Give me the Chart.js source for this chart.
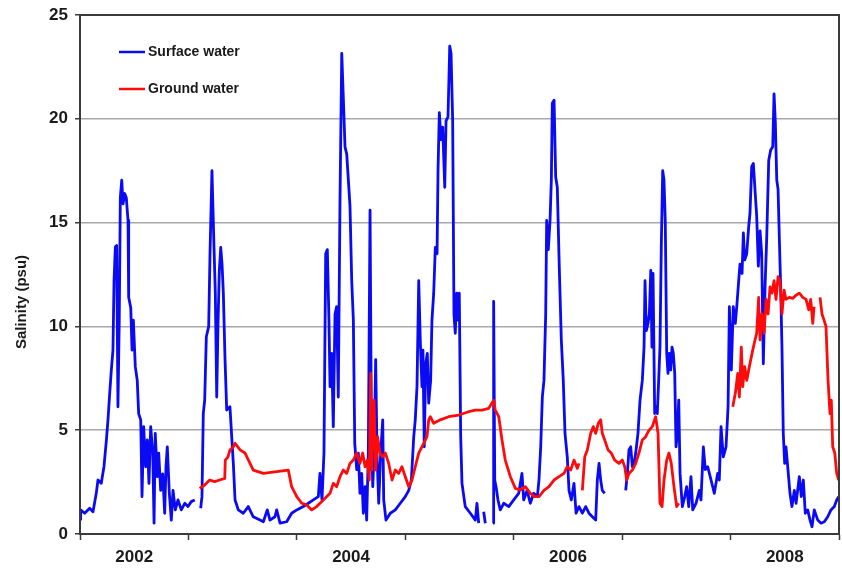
<!DOCTYPE html>
<html lang="en">
<head>
    <meta charset="UTF-8">
    <title>Salinity</title>
    <script src="https://cdn.jsdelivr.net/npm/chart.js"></script>
    <style>
        body { margin: 0; background: #fff; }
        #wrap { width: 842px; height: 573px; }
    </style>
</head>
<body>
<div id="wrap"><canvas id="salinityChart" width="842" height="573"></canvas></div>
<script>
// decimal years and salinity (psu), null = gap in record
const surfaceYears = [2002.000, 2002.006, 2002.043, 2002.089, 2002.120, 2002.150, 2002.166, 2002.196, 2002.221, 2002.243, 2002.258, 2002.274, 2002.289, 2002.304, 2002.314, 2002.326, 2002.338, 2002.350, 2002.362, 2002.372, 2002.385, 2002.397, 2002.412, 2002.427, 2002.443, 2002.449, 2002.468, 2002.480, 2002.492, 2002.510, 2002.528, 2002.541, 2002.560, 2002.572, 2002.587, 2002.606, 2002.621, 2002.636, 2002.652, 2002.671, 2002.683, 2002.694, 2002.713, 2002.726, 2002.744, 2002.763, 2002.781, 2002.793, 2002.805, 2002.824, 2002.842, 2002.858, 2002.879, 2002.904, 2002.934, 2002.966, 2002.996, 2003.026, 2003.058,
    2003.080,
    2003.113, 2003.125, 2003.137, 2003.150, 2003.165, 2003.187, 2003.199, 2003.217, 2003.236, 2003.248, 2003.261, 2003.273, 2003.285, 2003.298, 2003.310, 2003.322, 2003.337, 2003.353, 2003.383, 2003.399, 2003.414, 2003.430, 2003.460, 2003.506, 2003.552, 2003.598, 2003.660, 2003.691, 2003.727, 2003.752, 2003.798, 2003.814, 2003.845, 2003.906, 2003.952, 2003.999,
    2004.059, 2004.106, 2004.152, 2004.198, 2004.213, 2004.232, 2004.250, 2004.266, 2004.281, 2004.296, 2004.306, 2004.321, 2004.336, 2004.352, 2004.367, 2004.382, 2004.398, 2004.414, 2004.428, 2004.444, 2004.460, 2004.475, 2004.490, 2004.506, 2004.521, 2004.534, 2004.552, 2004.567, 2004.582, 2004.598, 2004.613, 2004.629, 2004.644, 2004.659, 2004.675, 2004.687, 2004.700, 2004.712, 2004.727, 2004.739, 2004.755, 2004.773, 2004.792, 2004.801, 2004.822, 2004.862, 2004.908, 2004.954,
    2005.000, 2005.032, 2005.056, 2005.078, 2005.092, 2005.108, 2005.124, 2005.139, 2005.154, 2005.163, 2005.175, 2005.188, 2005.203, 2005.216, 2005.234, 2005.246, 2005.262, 2005.277, 2005.293, 2005.302, 2005.314, 2005.329, 2005.345, 2005.364, 2005.376, 2005.394, 2005.410, 2005.422, 2005.437, 2005.449, 2005.461, 2005.474, 2005.486, 2005.498, 2005.511, 2005.523, 2005.553, 2005.600, 2005.646, 2005.661, 2005.677,
    2005.700,
    2005.723, 2005.738,
    2005.770,
    2005.809, 2005.815, 2005.825, 2005.837, 2005.855, 2005.876, 2005.908, 2005.954,
    2006.000, 2006.046, 2006.076, 2006.092, 2006.123, 2006.153, 2006.184, 2006.218, 2006.233, 2006.249, 2006.264, 2006.279, 2006.295, 2006.304, 2006.319, 2006.335, 2006.347, 2006.356, 2006.372, 2006.387, 2006.402, 2006.420, 2006.439, 2006.457, 2006.473, 2006.494, 2006.510, 2006.531, 2006.556, 2006.575, 2006.602, 2006.633, 2006.664, 2006.694, 2006.725, 2006.756, 2006.771, 2006.787, 2006.802, 2006.817, 2006.839,
    2006.930,
    2007.033, 2007.048, 2007.063, 2007.079, 2007.094, 2007.110, 2007.125, 2007.146, 2007.165, 2007.186, 2007.202, 2007.211, 2007.223, 2007.239, 2007.251, 2007.264, 2007.275, 2007.285, 2007.300, 2007.312, 2007.324, 2007.337, 2007.349, 2007.361, 2007.374, 2007.386, 2007.398, 2007.411, 2007.423, 2007.435, 2007.448, 2007.460, 2007.472, 2007.485, 2007.497, 2007.509, 2007.522, 2007.534, 2007.555, 2007.577, 2007.595, 2007.614, 2007.635, 2007.651, 2007.681, 2007.712, 2007.727, 2007.749, 2007.767, 2007.789, 2007.820, 2007.850, 2007.881, 2007.896, 2007.912, 2007.933, 2007.958, 2007.977, 2007.989,
    2008.007, 2008.025, 2008.044, 2008.057, 2008.075, 2008.087, 2008.106, 2008.118, 2008.130, 2008.149, 2008.167, 2008.179, 2008.195, 2008.210, 2008.225, 2008.241, 2008.256, 2008.272, 2008.287, 2008.302, 2008.318, 2008.333, 2008.352, 2008.370, 2008.389, 2008.401, 2008.413, 2008.426, 2008.438, 2008.450, 2008.462, 2008.474, 2008.486, 2008.499, 2008.511, 2008.527, 2008.548, 2008.566, 2008.588, 2008.604, 2008.634, 2008.652, 2008.671, 2008.689, 2008.711, 2008.733, 2008.751, 2008.772, 2008.804, 2008.834, 2008.865, 2008.896, 2008.926, 2008.957, 2008.979, 2008.997];
const surfaceValues = [0.7, 1.16, 1.0, 1.24, 1.07, 1.96, 2.6, 2.44, 3.24, 4.5, 5.5, 6.78, 7.9, 8.86, 12.2, 13.84, 13.9, 6.13, 10.3, 16.2, 17.05, 15.9, 16.4, 16.2, 15.1, 11.4, 10.9, 8.86, 10.3, 8.06, 7.4, 5.8, 5.5, 1.8, 5.17, 3.24, 4.53, 2.44, 5.17, 3.9, 0.52, 4.85, 2.76, 3.9, 2.1, 2.9, 1.0, 3.24, 4.2, 1.96, 0.67, 2.1, 1.16, 1.64, 1.16, 1.48, 1.32, 1.56, 1.64,
    null,
    1.24, 1.8, 5.8, 6.45, 9.5, 10.0, 13.5, 17.5, 13.8, 11.6, 6.6, 10.15, 12.7, 13.8, 13.0, 11.6, 8.5, 5.97, 6.13, 4.7, 3.4, 1.64, 1.16, 1.0, 1.32, 0.83, 0.67, 0.59, 1.16, 0.67, 0.83, 1.16, 0.52, 0.59, 1.0, 1.16,
    1.32, 1.48, 1.64, 1.8, 2.92, 1.64, 3.9, 13.5, 13.7, 10.3, 7.1, 8.7, 5.17, 10.6, 10.95, 6.6, 16.1, 23.15, 21.1, 18.65, 18.3, 17.05, 15.8, 12.2, 10.3, 4.37, 3.1, 3.9, 1.96, 2.92, 1.0, 2.28, 0.67, 3.9, 15.6, 5.5, 2.28, 3.9, 8.4, 3.9, 1.48, 3.9, 5.5, 1.64, 0.67, 1.0, 1.16, 1.48,
    1.8, 2.1, 2.6, 4.69, 5.5, 7.1, 12.2, 9.2, 7.1, 8.86, 4.2, 8.2, 8.7, 6.3, 7.4, 10.3, 11.6, 13.8, 13.5, 17.5, 20.3, 19.0, 19.6, 16.7, 19.9, 20.1, 23.5, 23.15, 19.9, 10.6, 9.67, 11.6, 10.3, 11.6, 4.69, 2.44, 1.32, 1.0, 0.67, 1.48, 0.52,
    null,
    1.07, 0.52,
    null,
    0.52, 11.2, 2.6, 2.28, 1.64, 1.16, 1.48, 1.32,
    1.64, 1.96, 2.92, 1.64, 2.1, 1.48, 1.96, 1.8, 2.6, 4.2, 6.6, 7.4, 10.6, 15.1, 13.7, 15.1, 17.05, 20.75, 20.9, 17.2, 16.7, 12.9, 9.35, 7.4, 4.85, 3.72, 2.1, 1.64, 2.44, 1.0, 1.32, 1.0, 1.32, 1.0, 0.83, 0.67, 2.6, 3.4, 2.6, 2.1, 1.96,
    null,
    2.1, 2.92, 4.05, 4.2, 3.24, 3.4, 3.9, 4.85, 6.45, 7.4, 9.0, 12.2, 9.8, 10.15, 10.6, 12.7, 9.0, 12.55, 5.8, 6.13, 5.8, 7.4, 9.0, 13.8, 17.5, 17.05, 15.0, 8.7, 7.74, 8.7, 7.9, 9.0, 8.7, 7.74, 4.2, 4.85, 6.45, 2.92, 1.32, 1.8, 2.28, 1.32, 2.76, 1.16, 1.48, 2.1, 1.64, 4.2, 3.1, 3.24, 2.6, 1.96, 2.92, 2.6, 5.17, 3.72, 4.2, 6.13, 10.95,
    7.9, 10.95, 10.15, 10.95, 12.2, 13.0, 12.55, 14.5, 13.2, 13.5, 14.8, 15.45, 17.7, 17.85, 16.6, 15.3, 12.9, 14.6, 13.5, 8.2, 11.9, 14.2, 18.0, 18.5, 18.65, 21.2, 19.8, 17.05, 16.6, 14.2, 11.9, 9.0, 4.85, 3.4, 4.2, 3.24, 1.96, 1.32, 2.1, 1.48, 2.76, 1.8, 2.6, 1.0, 1.16, 0.67, 0.35, 1.16, 0.67, 0.52, 0.59, 0.83, 1.16, 1.32, 1.64, 1.8];

const groundYears = [2003.104, 2003.150, 2003.196, 2003.242, 2003.288, 2003.335, 2003.340, 2003.365, 2003.383, 2003.414, 2003.430, 2003.476, 2003.522, 2003.568, 2003.598, 2003.691, 2003.814, 2003.921, 2003.952, 2003.999,
    2004.045, 2004.091, 2004.137, 2004.183, 2004.244, 2004.306, 2004.336, 2004.367, 2004.398, 2004.428, 2004.460, 2004.490, 2004.521, 2004.552, 2004.582, 2004.607, 2004.629, 2004.650, 2004.668, 2004.681, 2004.690, 2004.712, 2004.727, 2004.745, 2004.766, 2004.792, 2004.816, 2004.847, 2004.878, 2004.908, 2004.939, 2004.969,
    2005.000, 2005.032, 2005.062, 2005.092, 2005.124, 2005.170, 2005.200, 2005.216, 2005.231, 2005.262, 2005.323, 2005.400, 2005.493, 2005.585, 2005.646, 2005.708, 2005.769, 2005.815, 2005.830, 2005.862, 2005.892, 2005.922, 2005.969,
    2006.015, 2006.061, 2006.107, 2006.153, 2006.194, 2006.233, 2006.279, 2006.325, 2006.372, 2006.418, 2006.464, 2006.494, 2006.526, 2006.556, 2006.587, 2006.602,
    2006.618,
    2006.633, 2006.655, 2006.679, 2006.710, 2006.734, 2006.756, 2006.780, 2006.802, 2006.817, 2006.839, 2006.870, 2006.900, 2006.931, 2006.971,
    2007.001, 2007.024, 2007.042, 2007.063, 2007.094, 2007.125, 2007.155, 2007.186, 2007.217, 2007.248, 2007.278, 2007.309, 2007.331, 2007.349, 2007.368, 2007.386, 2007.411, 2007.432, 2007.453, 2007.478, 2007.503, 2007.522,
    2007.770,
    2008.020, 2008.044, 2008.066, 2008.081, 2008.099, 2008.112, 2008.130, 2008.149, 2008.173, 2008.198, 2008.219, 2008.241, 2008.259, 2008.272, 2008.290, 2008.309, 2008.327, 2008.346, 2008.364, 2008.382, 2008.401, 2008.419, 2008.438, 2008.456, 2008.474, 2008.493, 2008.511, 2008.542, 2008.573, 2008.604, 2008.634, 2008.666, 2008.696, 2008.721, 2008.739, 2008.758, 2008.770,
    2008.797,
    2008.825, 2008.843, 2008.862, 2008.880, 2008.899, 2008.917, 2008.929, 2008.942, 2008.961, 2008.979, 2008.997];
const groundValues = [2.2, 2.36, 2.6, 2.52, 2.6, 2.68, 3.56, 3.72, 4.05, 4.2, 4.37, 4.05, 3.9, 3.4, 3.08, 2.92, 3.0, 3.08, 2.28, 1.8,
    1.48, 1.4, 1.16, 1.32, 1.64, 1.96, 2.44, 2.28, 2.76, 3.08, 2.92, 3.4, 3.56, 3.9, 3.4, 3.9, 3.24, 3.56, 2.6, 7.74, 3.08, 6.45, 3.08, 4.69, 3.9, 3.72, 3.9, 3.4, 2.6, 3.08, 2.92, 3.24,
    2.76, 2.28, 2.6, 3.24, 3.9, 4.37, 4.69, 5.5, 5.65, 5.33, 5.5, 5.65, 5.73, 5.89, 5.97, 5.97, 6.05, 6.45, 5.97, 5.65, 4.53, 3.56, 2.76,
    2.2, 2.12, 2.28, 1.96, 1.8, 1.8, 2.1, 2.28, 2.6, 2.76, 2.92, 3.24, 3.08, 3.56, 3.16, 3.4,
    null,
    2.1, 3.72, 4.05, 4.85, 5.17, 4.85, 5.33, 5.5, 4.85, 4.53, 4.05, 3.9, 3.56, 3.4,
    3.56, 3.24, 2.6, 2.92, 3.08, 3.4, 3.9, 4.53, 4.69, 5.0, 5.17, 5.65, 4.85, 1.48, 1.32, 2.6, 3.56, 3.9, 3.4, 2.28, 1.32, 1.48,
    null,
    6.13, 6.78, 7.74, 6.6, 9.0, 7.1, 8.06, 7.4, 8.06, 8.7, 9.2, 9.67, 11.4, 9.35, 10.6, 9.67, 11.3, 10.6, 11.9, 11.6, 12.2, 11.3, 12.4, 12.2, 10.6, 11.75, 11.3, 11.4, 11.35, 11.5, 11.6, 11.4, 11.3, 10.8, 11.3, 10.15, 10.95,
    null,
    11.4, 10.6, 10.3, 10.0, 7.4, 5.8, 6.45, 4.2, 3.9, 2.92, 2.6];

const seriesLabels = ['Surface water', 'Ground water'];
const yearLabels = [2002, 2004, 2006, 2008];

const FONT = "'Liberation Sans', Arial, sans-serif";

function toPoints(xs, ys) {
    return xs.map((x, i) => ({ x: x, y: ys[i] }));
}

// legend inside the plot + rotated y title
const decorPlugin = {
    id: 'decor',
    afterDraw(chart) {
        const ctx = chart.ctx;
        const area = chart.chartArea;
        ctx.save();
        // frame
        ctx.strokeStyle = '#3a3a3a';
        ctx.lineWidth = 2;
        ctx.strokeRect(area.left, area.top, area.right - area.left, area.bottom - area.top);
        // legend
        ctx.font = 'bold 14px ' + FONT;
        ctx.textBaseline = 'middle';
        ctx.fillStyle = '#1a1a1a';
        chart.data.datasets.forEach((ds, i) => {
            const y = area.top + 37 + i * 37;
            ctx.strokeStyle = ds.borderColor;
            ctx.lineWidth = 2.5;
            ctx.beginPath();
            ctx.moveTo(area.left + 39, y);
            ctx.lineTo(area.left + 65, y);
            ctx.stroke();
            ctx.fillText(ds.label, area.left + 68, y);
        });
        // y axis title
        ctx.translate(22, 302);
        ctx.rotate(-Math.PI / 2);
        ctx.textAlign = 'center';
        ctx.font = 'bold 15px ' + FONT;
        ctx.fillText('Salinity (psu)', 0, 0);
        ctx.restore();
    }
};

const ctx = document.getElementById('salinityChart').getContext('2d');
new Chart(ctx, {
    type: 'line',
    data: {
        datasets: [{
            label: seriesLabels[0],
            data: toPoints(surfaceYears, surfaceValues),
            borderColor: '#0a0af5',
            borderWidth: 2.8,
            order: 2
        }, {
            label: seriesLabels[1],
            data: toPoints(groundYears, groundValues),
            borderColor: '#ff0a0a',
            borderWidth: 2.8,
            order: 1
        }]
    },
    options: {
        responsive: false,
        animation: false,
        spanGaps: false,
        elements: {
            point: { radius: 0 },
            line: { tension: 0, borderJoinStyle: 'round' }
        },
        layout: { padding: { left: 0, top: 15, right: 3, bottom: 0 } },
        plugins: {
            legend: { display: false },
            tooltip: { enabled: false }
        },
        scales: {
            x: {
                type: 'linear',
                min: 2002,
                max: 2009,
                afterFit: function (scale) {
                    scale.height = 39;
                    scale.paddingLeft = 0;
                    scale.paddingRight = 0;
                },
                border: { color: '#3a3a3a', width: 2 },
                grid: {
                    drawOnChartArea: false,
                    drawTicks: true,
                    tickLength: 6,
                    tickColor: function (c) {
                        const v = c.tick ? c.tick.value : 0;
                        return Math.abs(v - Math.round(v)) < 0.01 ? '#3a3a3a' : 'rgba(0,0,0,0)';
                    },
                    tickWidth: 1.5
                },
                ticks: {
                    stepSize: 0.5,
                    autoSkip: false,
                    maxRotation: 0,
                    padding: 7,
                    color: '#1a1a1a',
                    font: { family: FONT, size: 17, weight: 'bold' },
                    callback: function (value) {
                        const base = Math.floor(value);
                        if (Math.abs(value - base - 0.5) < 0.01 && yearLabels.includes(base)) {
                            return String(base);
                        }
                        return '';
                    }
                }
            },
            y: {
                min: 0,
                max: 25,
                afterFit: function (scale) {
                    scale.width = 80;
                    scale.paddingTop = 0;
                    scale.paddingBottom = 0;
                },
                border: { color: '#3a3a3a', width: 2 },
                grid: {
                    color: '#a8a8a8',
                    lineWidth: 1.5,
                    tickLength: 5,
                    tickColor: '#3a3a3a'
                },
                ticks: {
                    stepSize: 5,
                    padding: 7,
                    color: '#1a1a1a',
                    font: { family: FONT, size: 17, weight: 'bold' }
                }
            }
        }
    },
    plugins: [decorPlugin]
});
</script>
</body>
</html>
